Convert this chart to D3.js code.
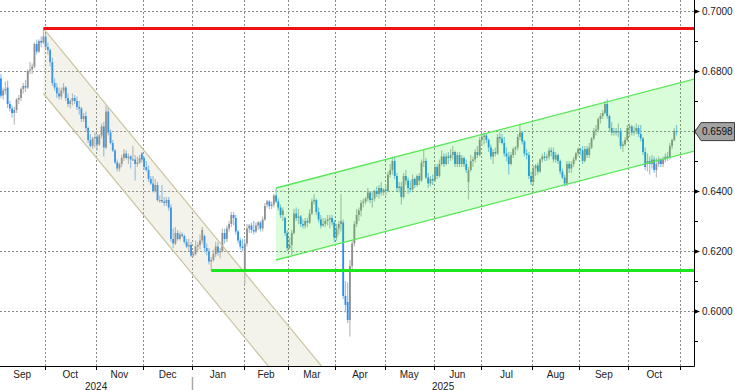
<!DOCTYPE html>
<html>
<head>
<meta charset="utf-8">
<script src="https://cdnjs.cloudflare.com/ajax/libs/d3/7.8.5/d3.min.js"></script>
<style>
body { margin: 0; background: #fff; }
svg { display: block; }
text { font-family: "Liberation Sans", Arial, sans-serif; }
</style>
</head>
<body>
<div id="chart"></div>
<script>
// Daily bars, one row per weekday: [open, high, low, close] in 1/10000 units
var sep24 = [[6775,6790,6710,6718],[6718,6745,6705,6735],[6735,6765,6722,6740],[6745,6768,6677,6690],[6690,6700,6665,6675],
  [6675,6685,6645,6660],[6660,6680,6622,6670],[6670,6710,6660,6705],[6705,6720,6690,6710],[6710,6745,6700,6740],
  [6740,6760,6725,6750],[6750,6770,6730,6745],[6745,6805,6740,6800],[6805,6830,6790,6805],[6805,6825,6790,6815],
  [6815,6895,6810,6890],[6890,6905,6855,6865],[6865,6905,6860,6900],[6900,6915,6880,6895],[6895,6942,6890,6915]];
var oct24 = [[6915,6925,6875,6880],[6880,6895,6855,6870],[6870,6875,6815,6830],[6830,6845,6750,6760],[6760,6775,6735,6745],
  [6745,6760,6710,6725],[6725,6745,6705,6715],[6715,6745,6705,6735],[6735,6760,6725,6745],[6745,6750,6700,6710],
  [6710,6725,6680,6690],[6690,6705,6675,6700],[6700,6725,6685,6710],[6710,6720,6690,6700],[6700,6715,6670,6680],
  [6680,6700,6655,6675],[6675,6680,6630,6640],[6640,6660,6630,6650],[6650,6665,6600,6610],[6610,6615,6560,6570],
  [6570,6590,6545,6550],[6550,6580,6540,6575],[6575,6595,6545,6580]];
var nov24 = [[6580,6590,6535,6555],[6555,6590,6550,6585],[6585,6625,6575,6615],[6615,6630,6515,6545],[6545,6685,6540,6665],
  [6665,6680,6585,6595],[6595,6605,6555,6560],[6560,6570,6530,6535],[6535,6540,6490,6495],[6495,6505,6465,6475],
  [6475,6495,6465,6490],[6490,6520,6480,6510],[6510,6540,6500,6525],[6525,6535,6505,6510],[6510,6525,6490,6515],
  [6515,6520,6475,6505],[6505,6550,6500,6505],[6505,6520,6435,6490],[6490,6515,6480,6495],[6495,6520,6490,6510],
  [6525,6530,6495,6505]];
var dec24 = [[6510,6515,6470,6480],[6480,6500,6465,6470],[6470,6485,6430,6440],[6440,6450,6420,6425],[6425,6450,6395,6400],
  [6400,6440,6395,6420],[6420,6430,6365,6370],[6370,6385,6360,6370],[6370,6420,6360,6365],[6365,6380,6350,6360],
  [6360,6380,6350,6370],[6370,6380,6335,6345],[6345,6355,6230,6240],[6240,6275,6210,6225],[6225,6280,6220,6260],
  [6260,6270,6235,6240],[6240,6265,6235,6255],[6255,6262,6245,6250],[6250,6255,6225,6230],[6230,6240,6210,6215],
  [6215,6240,6200,6220],[6220,6230,6180,6185]];
var jan25 = [[6185,6200,6180,6190],[6190,6235,6185,6215],[6215,6230,6200,6220],[6220,6255,6205,6235],[6235,6280,6225,6270],
  [6250,6255,6195,6210],[6210,6225,6185,6200],[6200,6210,6155,6165],[6165,6180,6133,6170],[6170,6205,6165,6190],
  [6190,6230,6180,6215],[6215,6230,6185,6195],[6195,6210,6175,6200],[6200,6275,6195,6260],[6260,6275,6225,6240],
  [6240,6285,6230,6275],[6275,6300,6265,6290],[6290,6330,6280,6320],[6320,6330,6285,6310],[6310,6320,6255,6265],
  [6265,6270,6225,6235],[6235,6245,6205,6215],[6215,6240,6200,6210]];
var feb25 = [[6140,6240,6088,6225],[6225,6290,6215,6275],[6275,6290,6260,6285],[6285,6295,6260,6270],[6270,6300,6255,6265],
  [6265,6295,6260,6285],[6285,6300,6270,6295],[6295,6300,6265,6275],[6275,6315,6265,6305],[6305,6360,6300,6350],
  [6355,6370,6345,6365],[6365,6370,6340,6350],[6350,6365,6340,6355],[6355,6390,6345,6385],[6385,6408,6360,6365],
  [6365,6375,6335,6345],[6345,6355,6310,6320],[6320,6345,6300,6335],[6310,6315,6250,6260],[6260,6270,6200,6210]];
var mar25 = [[6210,6245,6205,6220],[6220,6270,6187,6260],[6260,6340,6255,6325],[6325,6345,6300,6310],[6310,6340,6290,6315],
  [6315,6320,6280,6290],[6290,6305,6275,6285],[6285,6310,6275,6300],[6300,6310,6280,6295],[6295,6340,6290,6325],
  [6325,6375,6320,6365],[6365,6390,6355,6370],[6370,6375,6320,6330],[6330,6345,6295,6305],[6305,6320,6275,6285],
  [6285,6310,6280,6290],[6290,6310,6280,6300],[6300,6320,6285,6305],[6305,6320,6275,6310],[6310,6320,6285,6295],
  [6295,6305,6230,6245]];
var apr25 = [[6245,6290,6235,6275],[6275,6300,6255,6290],[6290,6390,6265,6300],[6295,6305,6040,6050],[6050,6100,5995,6020],
  [6030,6095,5960,5970],[5970,6170,5915,6150],[6150,6235,6130,6225],[6225,6300,6215,6290],[6290,6340,6280,6320],
  [6320,6345,6300,6335],[6335,6370,6315,6360],[6360,6375,6345,6365],[6365,6380,6355,6375],[6375,6410,6365,6395],
  [6395,6400,6360,6370],[6370,6400,6345,6375],[6375,6405,6365,6400],[6400,6415,6380,6390],[6390,6420,6375,6410],
  [6410,6430,6385,6395],[6395,6410,6385,6405]];
var may25 = [[6405,6420,6385,6400],[6400,6465,6395,6455],[6455,6490,6445,6470],[6470,6515,6455,6500],[6500,6515,6440,6450],
  [6450,6460,6400,6410],[6410,6430,6395,6415],[6415,6430,6355,6380],[6380,6460,6375,6450],[6450,6470,6420,6435],
  [6435,6445,6390,6410],[6410,6435,6395,6405],[6405,6455,6400,6440],[6440,6445,6410,6420],[6420,6455,6415,6450],
  [6450,6460,6420,6435],[6435,6505,6430,6495],[6495,6537,6480,6500],[6500,6510,6440,6445],[6445,6460,6410,6425],
  [6425,6450,6415,6440],[6440,6455,6420,6435]];
var jun25 = [[6435,6490,6430,6480],[6480,6490,6440,6450],[6450,6505,6445,6490],[6490,6535,6485,6515],[6515,6525,6480,6490],
  [6490,6525,6485,6515],[6515,6530,6490,6510],[6510,6540,6500,6520],[6520,6550,6505,6530],[6530,6535,6480,6490],
  [6490,6530,6480,6520],[6520,6530,6480,6490],[6490,6520,6480,6510],[6510,6515,6480,6490],[6490,6505,6460,6470],
  [6430,6480,6372,6470],[6470,6520,6465,6500],[6500,6515,6480,6505],[6505,6540,6495,6530],[6530,6550,6510,6520],
  [6520,6580,6515,6570]];
var jul25 = [[6570,6590,6550,6580],[6580,6595,6555,6585],[6585,6590,6560,6570],[6570,6575,6530,6545],[6545,6555,6505,6515],
  [6515,6540,6490,6530],[6530,6545,6515,6525],[6525,6590,6520,6580],[6580,6595,6560,6575],[6575,6590,6555,6560],
  [6560,6580,6515,6525],[6525,6545,6500,6515],[6515,6530,6455,6490],[6490,6530,6485,6520],[6520,6545,6510,6540],
  [6540,6550,6520,6545],[6545,6590,6535,6580],[6580,6625,6570,6595],[6595,6600,6555,6565],[6565,6570,6515,6525],
  [6525,6540,6505,6520],[6520,6530,6440,6450],[6450,6465,6420,6430]];
var aug25 = [[6430,6485,6418,6475],[6475,6490,6450,6485],[6485,6495,6455,6465],[6465,6510,6460,6505],[6505,6525,6495,6515],
  [6515,6530,6500,6510],[6510,6525,6500,6515],[6515,6545,6505,6535],[6535,6545,6515,6530],[6530,6545,6495,6505],
  [6505,6530,6495,6520],[6520,6525,6490,6500],[6500,6505,6455,6465],[6465,6475,6440,6445],[6445,6455,6415,6425],
  [6425,6500,6415,6490],[6490,6500,6460,6475],[6475,6500,6460,6490],[6490,6515,6480,6505],[6505,6530,6500,6525],
  [6525,6545,6515,6540]];
var sep25 = [[6540,6545,6520,6535],[6535,6550,6490,6500],[6500,6550,6495,6540],[6540,6550,6510,6520],[6520,6560,6510,6545],
  [6545,6580,6540,6575],[6575,6610,6570,6600],[6600,6620,6585,6605],[6605,6645,6595,6640],[6640,6660,6625,6650],
  [6650,6670,6640,6660],[6660,6700,6655,6690],[6690,6707,6640,6650],[6650,6655,6600,6610],[6610,6630,6585,6595],
  [6595,6610,6585,6600],[6600,6610,6585,6595],[6595,6625,6580,6600],[6600,6610,6540,6550],[6550,6565,6530,6555],
  [6555,6580,6550,6570],[6570,6620,6565,6610]];
var oct25 = [[6610,6625,6580,6615],[6615,6620,6585,6595],[6595,6615,6585,6600],[6600,6625,6590,6610],[6610,6620,6580,6590],
  [6590,6620,6565,6575],[6575,6580,6520,6530],[6530,6545,6470,6480],[6490,6525,6465,6500],[6500,6515,6455,6490],
  [6490,6520,6475,6505],[6505,6515,6460,6470],[6470,6510,6445,6490],[6490,6515,6480,6505],[6505,6510,6480,6490],
  [6490,6515,6480,6505],[6505,6525,6495,6515],[6515,6530,6500,6510],[6510,6560,6505,6550],[6550,6575,6540,6570],
  [6570,6610,6565,6600],[6600,6620,6585,6598]];

var monthNames = ["Sep", "Oct", "Nov", "Dec", "Jan", "Feb", "Mar", "Apr", "May", "Jun", "Jul", "Aug", "Sep", "Oct"];
var yearNames = ["2024", "2025"];
var priceTicks = [0.60, 0.62, 0.64, 0.66, 0.68, 0.70];
var minorTicks = [0.59, 0.61, 0.63, 0.65, 0.67, 0.69];

// trend lines: [date, price]
var resistance = ["2024-09-30", 0.6942];
var support = ["2025-01-13", 0.6135];
var downDates = ["2024-09-30", "2025-03-31"];
var downUpper = [0.6942, 0.5765];
var downLower = [0.6725, 0.5550];
var upDates = ["2025-02-21", "2025-11-12"];
var upUpper = [0.6410, 0.6775];
var upLower = [0.6170, 0.6535];

var width = 735, height = 390;
var plotRight = 694, plotBottom = 366;

// weekday count from Monday 2 Sep 2024 (weekends collapse to the next Monday)
var baseDay = new Date(2024, 8, 2);
function weekdayIndex(date) {
    var days = d3.timeDay.count(baseDay, date);
    return Math.floor(days / 7) * 5 + Math.min(days % 7, 5);
}
var parseDay = d3.timeParse("%Y-%m-%d");

var months = [
    { y: 2024, m: 8, first: 3, rows: sep24 }, { y: 2024, m: 9, first: 1, rows: oct24 },
    { y: 2024, m: 10, first: 1, rows: nov24 }, { y: 2024, m: 11, first: 1, rows: dec24 },
    { y: 2025, m: 0, first: 1, rows: jan25 }, { y: 2025, m: 1, first: 1, rows: feb25 },
    { y: 2025, m: 2, first: 1, rows: mar25 }, { y: 2025, m: 3, first: 1, rows: apr25 },
    { y: 2025, m: 4, first: 1, rows: may25 }, { y: 2025, m: 5, first: 1, rows: jun25 },
    { y: 2025, m: 6, first: 1, rows: jul25 }, { y: 2025, m: 7, first: 1, rows: aug25 },
    { y: 2025, m: 8, first: 1, rows: sep25 }, { y: 2025, m: 9, first: 1, rows: oct25 }
];

var bars = [];
months.forEach(function(mo) {
    var d = new Date(mo.y, mo.m, mo.first);
    var k = 0;
    while (k < mo.rows.length) {
        var wd = d.getDay();
        if (wd !== 0 && wd !== 6) {
            var r = mo.rows[k];
            bars.push({ i: weekdayIndex(d), o: r[0] / 1e4, h: r[1] / 1e4, l: r[2] / 1e4, c: r[3] / 1e4 });
            k++;
        }
        d = d3.timeDay.offset(d, 1);
    }
});

// month boundaries: half a slot before the first weekday of each month
var boundaries = [];
for (var b = 1; b <= months.length; b++) {
    var fm = new Date(months[0].y, months[0].m + b, 1);
    boundaries.push(weekdayIndex(fm) - 0.5);
}

var x = d3.scaleLinear()
    .domain([bars[0].i - 0.4, bars[bars.length - 1].i + 7.8])
    .range([0, plotRight]);

var y = d3.scaleLinear()
    .domain([0.581667, 0.703667])
    .range([plotBottom, 0]);

var svg = d3.select("#chart")
    .append("svg")
    .attr("width", width)
    .attr("height", height);

svg.append("clipPath")
    .attr("id", "plotClip")
    .append("rect")
    .attr("x", 0).attr("y", 0)
    .attr("width", plotRight).attr("height", plotBottom);

var plot = svg.append("g").attr("clip-path", "url(#plotClip)");

// dotted grid
plot.selectAll(".hgrid")
    .data(priceTicks)
    .enter()
    .append("line")
    .attr("x1", 0).attr("x2", plotRight)
    .attr("y1", function(d) { return Math.round(y(d)) + 0.5; })
    .attr("y2", function(d) { return Math.round(y(d)) + 0.5; })
    .attr("stroke", "#8a8a8a")
    .attr("stroke-dasharray", "2,2");

plot.selectAll(".vgrid")
    .data(boundaries)
    .enter()
    .append("line")
    .attr("x1", function(d) { return Math.round(x(d)) + 0.5; })
    .attr("x2", function(d) { return Math.round(x(d)) + 0.5; })
    .attr("y1", 0).attr("y2", plotBottom)
    .attr("stroke", "#8a8a8a")
    .attr("stroke-dasharray", "2,2");

// candles
var candle = plot.selectAll(".bar")
    .data(bars)
    .enter()
    .append("g");

candle.append("line")
    .attr("x1", function(d) { return x(d.i); })
    .attr("x2", function(d) { return x(d.i); })
    .attr("y1", function(d) { return y(d.h); })
    .attr("y2", function(d) { return y(d.l); })
    .attr("stroke", function(d) { return d.c >= d.o ? "#bcbcbc" : "#8fc4f6"; })
    .attr("stroke-width", 1.2);

candle.append("rect")
    .attr("x", function(d) { return x(d.i) - 0.9; })
    .attr("width", 1.8)
    .attr("y", function(d) { return y(Math.max(d.o, d.c)); })
    .attr("height", function(d) { return Math.max(1, Math.abs(y(d.o) - y(d.c))); })
    .attr("fill", function(d) { return d.c >= d.o ? "#8f8f8f" : "#2b8ff2"; });

// channels
function channelPoints(dates, upper, lower) {
    var i0 = weekdayIndex(parseDay(dates[0])), i1 = weekdayIndex(parseDay(dates[1]));
    return {
        top: [[x(i0), y(upper[0])], [x(i1), y(upper[1])]],
        bottom: [[x(i0), y(lower[0])], [x(i1), y(lower[1])]]
    };
}

var line = d3.line();

function drawChannel(ch, fill, opacity, stroke, strokeWidth) {
    plot.append("path")
        .attr("d", line(ch.top.concat(ch.bottom.slice().reverse())) + "Z")
        .attr("fill", fill)
        .attr("fill-opacity", opacity);
    [ch.top, ch.bottom].forEach(function(seg) {
        plot.append("path")
            .attr("d", line(seg))
            .attr("fill", "none")
            .attr("stroke", stroke)
            .attr("stroke-width", strokeWidth);
    });
}

drawChannel(channelPoints(downDates, downUpper, downLower), "rgb(180,180,130)", 0.16, "#c9c59f", 1.2);
drawChannel(channelPoints(upDates, upUpper, upLower), "rgb(0,235,0)", 0.15, "#55e855", 1.3);

// horizontal levels
plot.append("line")
    .attr("x1", x(weekdayIndex(parseDay(resistance[0])))).attr("x2", plotRight)
    .attr("y1", y(resistance[1])).attr("y2", y(resistance[1]))
    .attr("stroke", "#ee1111")
    .attr("stroke-width", 3);

plot.append("line")
    .attr("x1", x(weekdayIndex(parseDay(support[0])))).attr("x2", plotRight)
    .attr("y1", y(support[1])).attr("y2", y(support[1]))
    .attr("stroke", "#1ee61e")
    .attr("stroke-width", 3);

// right price axis
svg.append("line")
    .attr("x1", plotRight + 0.5).attr("x2", plotRight + 0.5)
    .attr("y1", 0).attr("y2", plotBottom + 0.5)
    .attr("stroke", "#000");

svg.selectAll(".minor")
    .data(minorTicks)
    .enter()
    .append("line")
    .attr("x1", plotRight).attr("x2", plotRight + 4)
    .attr("y1", function(d) { return Math.round(y(d)) + 0.5; })
    .attr("y2", function(d) { return Math.round(y(d)) + 0.5; })
    .attr("stroke", "#000");

svg.selectAll(".major")
    .data(priceTicks)
    .enter()
    .append("path")
    .attr("d", function(d) {
        var yy = Math.round(y(d)) + 0.5;
        return "M" + plotRight + "," + (yy - 2.5) + "L" + (plotRight + 6) + "," + yy + "L" + plotRight + "," + (yy + 2.5) + "Z";
    })
    .attr("fill", "#000");

svg.selectAll(".plabel")
    .data(priceTicks)
    .enter()
    .append("text")
    .attr("x", plotRight + 8)
    .attr("y", function(d) { return y(d) + 3.6; })
    .attr("font-size", "10px")
    .attr("fill", "#222")
    .text(d3.format(".4f"));

// last price tag
var last = bars[bars.length - 1].c;
var ty = y(last);
svg.append("path")
    .attr("d", "M" + (plotRight + 1) + "," + ty + "L" + (plotRight + 7) + "," + (ty - 9) + "L" + (width - 0.5) + "," + (ty - 9) +
        "L" + (width - 0.5) + "," + (ty + 9) + "L" + (plotRight + 7) + "," + (ty + 9) + "Z")
    .attr("fill", "#a3a3a3")
    .attr("stroke", "#3c3c3c");

svg.append("text")
    .attr("x", plotRight + 8)
    .attr("y", ty + 3.6)
    .attr("font-size", "10px")
    .attr("fill", "#111")
    .text(d3.format(".4f")(last));

// time axis
svg.append("line")
    .attr("x1", 0).attr("x2", plotRight + 0.5)
    .attr("y1", plotBottom + 0.5).attr("y2", plotBottom + 0.5)
    .attr("stroke", "#000");

svg.selectAll(".mtick")
    .data(boundaries)
    .enter()
    .append("line")
    .attr("x1", function(d) { return Math.round(x(d)) + 0.5; })
    .attr("x2", function(d) { return Math.round(x(d)) + 0.5; })
    .attr("y1", plotBottom).attr("y2", plotBottom + 4)
    .attr("stroke", "#000");

var edges = [0].concat(boundaries.map(function(d) { return x(d); }));
svg.selectAll(".mlabel")
    .data(monthNames)
    .enter()
    .append("text")
    .attr("x", function(d, k) { return (edges[k] + edges[k + 1]) / 2; })
    .attr("y", plotBottom + 11.5)
    .attr("text-anchor", "middle")
    .attr("font-size", "10px")
    .attr("fill", "#222")
    .text(function(d) { return d; });

var janX = x(boundaries[3]);
var yearEdges = [0, janX, plotRight];
svg.selectAll(".ylabel")
    .data(yearNames)
    .enter()
    .append("text")
    .attr("x", function(d, k) { return (yearEdges[k] + yearEdges[k + 1]) / 2; })
    .attr("y", plotBottom + 23.5)
    .attr("text-anchor", "middle")
    .attr("font-size", "10px")
    .attr("fill", "#222")
    .text(function(d) { return d; });

svg.append("line")
    .attr("x1", Math.round(janX) + 0.5).attr("x2", Math.round(janX) + 0.5)
    .attr("y1", plotBottom + 11).attr("y2", height)
    .attr("stroke", "#aaa")
    .attr("stroke-width", 1.5);
</script>
</body>
</html>
